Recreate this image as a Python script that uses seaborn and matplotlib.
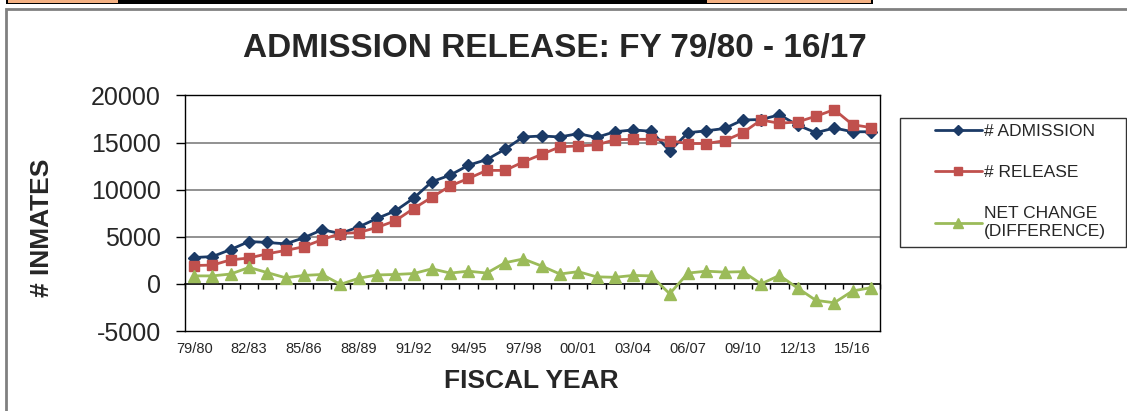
import numpy as np
import pandas as pd
import seaborn as sns
import matplotlib.pyplot as plt
from matplotlib.patches import Rectangle

years = ["79/80", "80/81", "81/82", "82/83", "83/84", "84/85", "85/86", "86/87", "87/88", "88/89",
         "89/90", "90/91", "91/92", "92/93", "93/94", "94/95", "95/96", "96/97", "97/98", "98/99",
         "99/00", "00/01", "01/02", "02/03", "03/04", "04/05", "05/06", "06/07", "07/08", "08/09",
         "09/10", "10/11", "11/12", "12/13", "13/14", "14/15", "15/16", "16/17"]
admission = [2800, 2900, 3650, 4500, 4400, 4250, 4900, 5750, 5350, 6050,
             6950, 7750, 9100, 10850, 11550, 12600, 13200, 14300, 15600, 15700,
             15600, 15950, 15550, 16150, 16350, 16200, 14100, 16050, 16250, 16500,
             17400, 17450, 17950, 16850, 16050, 16550, 16150, 16150]
release = [1950, 2000, 2550, 2750, 3200, 3550, 3950, 4700, 5350, 5450,
           6000, 6700, 8000, 9200, 10400, 11200, 12050, 12050, 12950, 13750,
           14550, 14650, 14750, 15300, 15350, 15350, 15200, 14900, 14900, 15200,
           16050, 17400, 17050, 17200, 17800, 18500, 16900, 16600]
net_change = [850, 850, 1050, 1750, 1200, 650, 900, 1000, -50, 600,
              950, 1000, 1100, 1600, 1150, 1350, 1150, 2250, 2650, 1900,
              1050, 1300, 750, 700, 900, 850, -1050, 1150, 1350, 1250,
              1300, 0, 900, -450, -1750, -2000, -750, -400]

series_names = ["# ADMISSION", "# RELEASE", "NET CHANGE\n(DIFFERENCE)"]
colors = ["#1b3a66", "#c0504d", "#9bbb59"]
markers = ["D", "s", "^"]
msizes = [6.5, 7, 9]

df = pd.DataFrame({"year": years, "# ADMISSION": admission, "# RELEASE": release,
                   "NET CHANGE\n(DIFFERENCE)": net_change})
df["pos"] = np.arange(len(years))

sns.set_style("white")
plt.rcParams["font.family"] = ["Liberation Sans", "DejaVu Sans"]

fig = plt.figure(figsize=(11.27, 4.11), dpi=100)
W, H = 1127, 411
ax = fig.add_axes([185 / W, 1 - 331 / H, (880 - 185) / W, (331 - 95.5) / H])

for name, c, m, ms in zip(series_names, colors, markers, msizes):
    sns.lineplot(data=df, x="pos", y=name, ax=ax, color=c, marker=m, markersize=ms,
                 markeredgecolor=c, markeredgewidth=1, linewidth=2, label=name, sort=False)

ax.set_xlim(-0.5, len(years) - 0.5)
ax.set_ylim(-5000, 20000)
ax.set_yticks([-5000, 0, 5000, 10000, 15000, 20000])
ax.set_yticklabels(["-5000", "0", "5000", "10000", "15000", "20000"], fontsize=18)
ax.tick_params(axis="y", direction="out", length=6.5, width=1, pad=11, left=True, color="black")
ax.set_xticks(df["pos"][::3])
ax.set_xticklabels(df["year"][::3], fontsize=10.5)
ax.tick_params(axis="x", length=0, pad=8)
ax.set_xlabel("")
ax.set_ylabel("")
for y in [5000, 10000, 15000]:
    ax.axhline(y, color="#7f7f7f", lw=1.2, zorder=0)
for s in ax.spines.values():
    s.set_visible(True)
    s.set_color("black")
    s.set_linewidth(1)

# zero axis with tick marks between categories
sec = ax.secondary_xaxis(0, transform=ax.transData)
sec.set_xticks(np.arange(len(years) + 1) - 0.5)
sec.tick_params(axis="x", direction="out", length=3.5, width=1, labelbottom=False, color="black")
sec.spines["bottom"].set_linewidth(1.2)
sec.spines["bottom"].set_color("black")

ax.legend_.remove()
handles, labels = ax.get_legend_handles_labels()
leg = fig.legend(handles, labels, loc="upper left", bbox_to_anchor=(921 / W, 1 - 110 / H),
                 frameon=False, fontsize=12.5, handlelength=2.7, handletextpad=0.1,
                 labelspacing=1.5, borderpad=0.3, markerscale=0.85)
for t in leg.get_texts():
    t.set_linespacing(1.25)
fig.patches.append(Rectangle((900 / W, 1 - 247 / H), 226 / W, 129 / H, transform=fig.transFigure,
                             fill=False, edgecolor="#333333", lw=1))

fig.text(555 / W, 1 - 48 / H, "ADMISSION RELEASE: FY 79/80 - 16/17", ha="center", va="center",
         fontsize=24, fontweight="bold")
fig.text(42 / W, 1 - 228 / H, "# INMATES", ha="center", va="center", rotation=90,
         fontsize=19, fontweight="bold")
fig.text(531 / W, 1 - 381 / H, "FISCAL YEAR", ha="center", va="center", fontsize=19, fontweight="bold")

# chart frame and spreadsheet strip at the top
fig.patches.append(Rectangle((6 / W, -0.1), 1.2, 1 - 9 / H + 0.1, transform=fig.transFigure,
                             fill=False, edgecolor="#808080", lw=2))
fig.patches.append(Rectangle((6 / W, 1 - 4 / H), 867 / W, 4 / H, transform=fig.transFigure,
                             facecolor="black", edgecolor="none"))
for x0, x1 in [(8, 118), (707, 871)]:
    fig.patches.append(Rectangle((x0 / W, 1 - 3 / H), (x1 - x0) / W, 3 / H, transform=fig.transFigure,
                                 facecolor="#f4b183", edgecolor="none"))

fig.savefig("out.png", dpi=100)
